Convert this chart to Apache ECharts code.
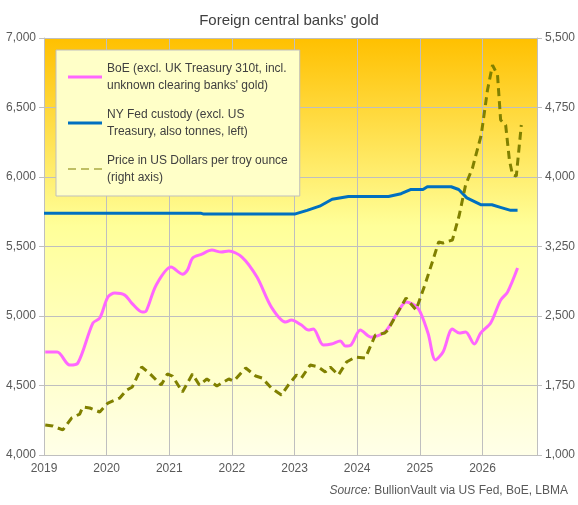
<!DOCTYPE html>
<html>
<head>
<meta charset="utf-8">
<script src="https://cdn.jsdelivr.net/npm/echarts@6/dist/echarts.min.js"></script>
<style>html,body{margin:0;padding:0;background:#fff}#chart{width:578px;height:505px}</style>
</head>
<body>
<div id="chart"></div>
<script>
// [decimal year, tonnes]
var boeData = [
    [2019.02, 4741], [2019.21, 4741], [2019.41, 4647], [2019.54, 4661], [2019.78, 4949], [2019.89, 4985],
    [2020.02, 5136], [2020.13, 5165], [2020.29, 5150], [2020.40, 5093], [2020.57, 5028], [2020.63, 5035],
    [2020.79, 5222], [2021.03, 5352], [2021.21, 5301], [2021.29, 5330], [2021.37, 5416], [2021.52, 5445],
    [2021.68, 5474], [2021.83, 5460], [2021.95, 5467], [2022.16, 5424], [2022.40, 5280], [2022.63, 5064],
    [2022.86, 4956], [2022.95, 4971], [2023.11, 4935], [2023.22, 4899], [2023.30, 4906], [2023.46, 4791],
    [2023.59, 4798], [2023.73, 4820], [2023.81, 4784], [2023.90, 4791], [2024.05, 4899], [2024.22, 4848],
    [2024.44, 4884], [2024.65, 5028], [2024.78, 5100], [2024.97, 5057], [2025.13, 4877], [2025.25, 4683],
    [2025.37, 4741], [2025.52, 4906], [2025.63, 4877], [2025.73, 4884], [2025.87, 4798], [2025.97, 4877],
    [2026.13, 4949], [2026.29, 5114], [2026.40, 5172], [2026.56, 5345]
];
var fedData = [
    [2019.0, 5740], [2021.5, 5740], [2021.55, 5733], [2023.0, 5733], [2023.2, 5760], [2023.4, 5790],
    [2023.6, 5840], [2023.86, 5860], [2024.5, 5860], [2024.7, 5880], [2024.85, 5910], [2025.05, 5910],
    [2025.12, 5930], [2025.5, 5930], [2025.62, 5910], [2025.75, 5850], [2025.98, 5800], [2026.15, 5800],
    [2026.3, 5780], [2026.45, 5760], [2026.56, 5760]
];
var priceData = [
    [2019.02, 1324], [2019.14, 1313], [2019.30, 1270], [2019.44, 1399], [2019.57, 1442], [2019.62, 1518],
    [2019.73, 1507], [2019.89, 1464], [2020.02, 1561], [2020.21, 1615], [2020.32, 1701], [2020.41, 1734],
    [2020.56, 1950], [2020.68, 1885], [2020.87, 1755], [2020.97, 1874], [2021.05, 1852], [2021.21, 1680],
    [2021.37, 1874], [2021.48, 1755], [2021.60, 1820], [2021.76, 1745], [2021.95, 1820], [2022.03, 1798],
    [2022.22, 1939], [2022.38, 1852], [2022.48, 1831], [2022.63, 1723], [2022.79, 1647], [2022.90, 1755],
    [2023.03, 1863], [2023.11, 1831], [2023.25, 1971], [2023.38, 1950], [2023.49, 1896], [2023.57, 1950],
    [2023.70, 1863], [2023.83, 2003], [2023.97, 2057], [2024.13, 2047], [2024.29, 2295], [2024.44, 2316],
    [2024.49, 2349], [2024.65, 2543], [2024.78, 2694], [2024.94, 2565], [2025.08, 2834], [2025.21, 3104],
    [2025.30, 3298], [2025.37, 3288], [2025.52, 3320], [2025.63, 3590], [2025.73, 3913], [2025.84, 4097],
    [2025.98, 4453], [2026.08, 4938], [2026.16, 5208], [2026.24, 5100], [2026.29, 4615], [2026.37, 4561],
    [2026.43, 4183], [2026.48, 4021], [2026.54, 4010], [2026.62, 4561]
];
var boeName = "BoE (excl. UK Treasury 310t, incl.\nunknown clearing banks' gold)";
var fedName = "NY Fed custody (excl. US\nTreasury, also tonnes, left)";
var priceName = "Price in US Dollars per troy ounce\n(right axis)";

var chart = echarts.init(document.getElementById('chart'));
var labelStyle = { color: '#595959', fontSize: 12, fontFamily: 'Liberation Sans, Arial' };
chart.setOption({
    animation: false,
    textStyle: { fontFamily: 'Liberation Sans, Arial' },
    title: {
        text: "Foreign central banks' gold", left: 'center', top: 8,
        textStyle: { fontSize: 15, fontWeight: 'normal', color: '#404040' }
    },
    graphic: [{
        type: 'text', right: 10, bottom: 8,
        style: {
            text: '{i|Source:} BullionVault via US Fed, BoE, LBMA',
            rich: { i: { fontStyle: 'italic', fontSize: 12, fill: '#595959' } },
            fontSize: 12, fill: '#595959'
        }
    }],
    grid: {
        left: 44, right: 38, top: 38, bottom: 50, show: true, borderWidth: 0,
        backgroundColor: new echarts.graphic.LinearGradient(0, 0, 0, 1, [
            { offset: 0, color: '#FFC000' }, { offset: 0.45, color: '#FFFF99' }, { offset: 1, color: '#FFFFE8' }
        ])
    },
    legend: {
        orient: 'vertical', left: 56, top: 50, padding: [10, 12, 10, 12], itemGap: 12,
        backgroundColor: '#FFFFC8', borderColor: '#BFBFBF', borderWidth: 1,
        itemWidth: 34, itemHeight: 3,
        textStyle: { color: '#404040', fontSize: 12, lineHeight: 17 },
        data: [
            { name: boeName, icon: 'rect' },
            { name: fedName, icon: 'rect' },
            { name: priceName, icon: 'path://M0,0H8V1H0Z M13,0H21V1H13Z M26,0H34V1H26Z' }
        ]
    },
    xAxis: {
        type: 'value', min: 2019, max: 2026.87, interval: 1,
        axisLine: { show: true, lineStyle: { color: '#BFBFBF' } },
        axisTick: { show: false },
        splitLine: { show: true, lineStyle: { color: '#BFBFBF' } },
        axisLabel: Object.assign({ showMaxLabel: false, formatter: function (v) { return String(v); } }, labelStyle)
    },
    yAxis: [{
        type: 'value', min: 4000, max: 7000, interval: 500,
        axisLine: { show: true, lineStyle: { color: '#BFBFBF' } },
        splitLine: { lineStyle: { color: '#BFBFBF' } },
        axisLabel: Object.assign({ formatter: function (v) { return v.toLocaleString('en-US'); } }, labelStyle)
    }, {
        type: 'value', min: 1000, max: 5500, interval: 750,
        axisLine: { show: true, lineStyle: { color: '#BFBFBF' } },
        splitLine: { show: false },
        axisLabel: labelStyle
    }],
    series: [{
        name: boeName, type: 'line', data: boeData, showSymbol: false, smooth: 0.3,
        lineStyle: { color: '#FF66FF', width: 3 }, itemStyle: { color: '#FF66FF' }
    }, {
        name: fedName, type: 'line', data: fedData, showSymbol: false,
        lineStyle: { color: '#0070C0', width: 3 }, itemStyle: { color: '#0070C0' }
    }, {
        name: priceName, type: 'line', yAxisIndex: 1, data: priceData, showSymbol: false,
        lineStyle: { color: '#808000', width: 3, type: [8, 5] }, itemStyle: { color: '#808000' }
    }]
});
</script>
</body>
</html>
